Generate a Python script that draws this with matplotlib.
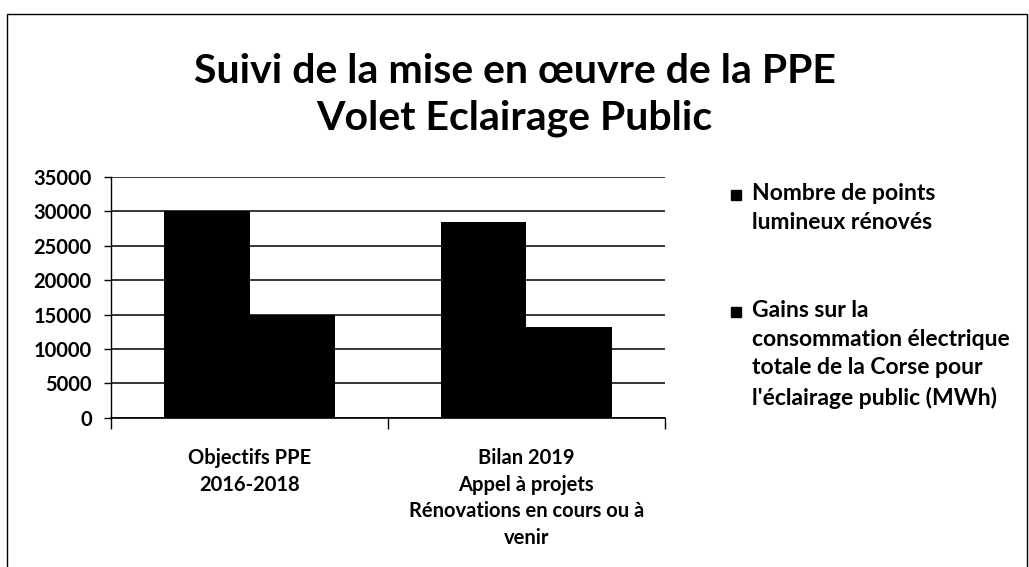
import matplotlib
matplotlib.use("Agg")
import matplotlib.pyplot as plt
from matplotlib.patches import Rectangle
import numpy as np

# --- data ---
categories = ["Objectifs PPE\n2016-2018",
              "Bilan 2019\nAppel à projets\nRénovations en cours ou à\nvenir"]
series_labels = ["Nombre de points\nlumineux rénovés",
                 "Gains sur la\nconsommation électrique\ntotale de la Corse pour\nl'éclairage public (MWh)"]
points_renoves = [30000, 28400]
gains_mwh = [15000, 13200]
y_ticks = [0, 5000, 10000, 15000, 20000, 25000, 30000, 35000]

plt.rcParams['font.family'] = ['Lato', 'DejaVu Sans']
plt.rcParams['font.weight'] = 'bold'

W, H = 1029, 567
fig = plt.figure(figsize=(W / 100, H / 100), dpi=100)
ax = fig.add_axes([0.108, 0.263, 0.538, 0.425])

x = np.arange(len(categories))
w = 0.31
ax.bar(x - w / 2, points_renoves, w, color='black', zorder=3)
ax.bar(x + w / 2, gains_mwh, w, color='black', zorder=3)

ax.set_xlim(-0.5, len(categories) - 0.5)
ax.set_ylim(0, 35000)
ax.set_yticks(y_ticks)
ax.set_yticklabels([str(v) for v in y_ticks], fontsize=14.5, fontweight='bold')
ax.yaxis.grid(True, color='black', linewidth=1.1, zorder=0)
ax.tick_params(axis='y', length=5, width=1, pad=9)

ax.set_xticks(x)
ax.set_xticklabels(categories, fontsize=14.5, fontweight='bold', linespacing=1.4)
ax.tick_params(axis='x', which='major', length=0, pad=22)
ax.set_xticks(np.arange(-0.5, len(categories)), minor=True)
ax.tick_params(axis='x', which='minor', length=8, width=1)

for side in ['top', 'right']:
    ax.spines[side].set_visible(False)
ax.spines['left'].set_linewidth(1)
ax.spines['bottom'].set_linewidth(1.2)

fig.text(0.5, 1 - 95 / H, "Suivi de la mise en œuvre de la PPE\nVolet Eclairage Public",
         ha='center', va='center', fontsize=29.5, fontweight='bold', linespacing=1.32)

# legend, laid out by hand so the marker sits on the first line of each label
legend_tops = [183, 300]   # pixel row of the top of the first text line
for label, top in zip(series_labels, legend_tops):
    fig.patches.append(Rectangle((731 / W, 1 - (top + 17) / H), 10 / W, 10 / H,
                                 transform=fig.transFigure, color='black'))
    fig.text(752 / W, 1 - top / H, label, ha='left', va='top',
             fontsize=16.5, fontweight='bold', linespacing=1.45)

# outer chart frame
fig.patches.append(Rectangle((7 / W, -0.05), 1020 / W, 1.05 - 14 / H,
                             transform=fig.transFigure, fill=False,
                             edgecolor='black', linewidth=1))

fig.savefig("out.png", dpi=100)
